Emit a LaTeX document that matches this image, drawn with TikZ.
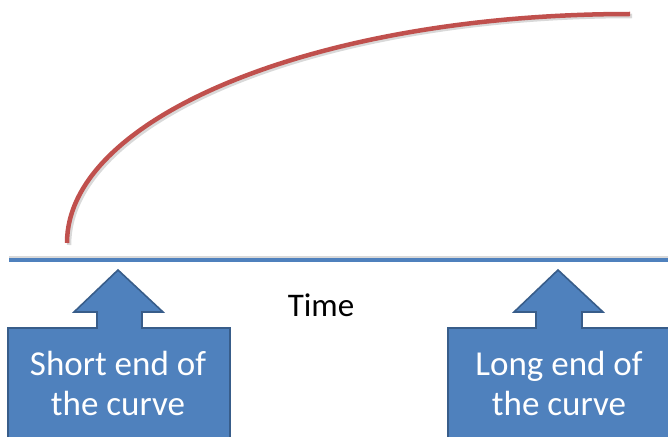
\documentclass[tikz,border=0pt]{standalone}
\usepackage{fontspec}
\setmainfont{Carlito}
\definecolor{boxblue}{HTML}{4F81BD}
\definecolor{boxedge}{HTML}{385D8A}
\definecolor{curvered}{HTML}{C0504D}
\begin{document}
\begin{tikzpicture}[x=1pt,y=-1pt,
  callout/.style={fill=boxblue,draw=boxedge,line width=1.6pt,line join=miter},
  lbl/.style={text=white,font=\fontsize{35}{40}\selectfont,align=center,inner sep=0pt},
  axis/.style={draw=boxblue,line width=4pt},
  shadowline/.style={draw=black!15,line width=4pt},
  curve/.style={draw=curvered,line width=4.5pt,line cap=butt}
]
\useasboundingbox (0,0) rectangle (668,436);
% curve
\coordinate (cs) at (67,243);
\draw[shadowline,line width=4.5pt] ([shift={(2,2)}]cs) arc[start angle=180,end angle=270,x radius=563,y radius=229];
\draw[curve] (cs) arc[start angle=180,end angle=270,x radius=563,y radius=229];
% axis
\coordinate (axl) at (9,260);
\coordinate (axr) at (668,260);
\draw[shadowline] ([yshift=2]axl) -- ([yshift=2]axr);
\draw[axis] (axl) -- (axr);
\node[font=\fontsize{33}{40}\selectfont,anchor=base,inner sep=0pt] (time) at (321,316) {Time};
% left callout
\draw[callout] (118,270) -- (163,312) -- (142,312) -- (142,328) -- (230,328) -- (230,440) -- (8,440) -- (8,328) -- (97,328) -- (97,312) -- (74,312) -- cycle;
\node[lbl,anchor=base] (l1) at (118,375) {Short end of};
\node[lbl,anchor=base] (l2) at (118,415) {the curve};
% right callout
\draw[callout] (558,270) -- (603,312) -- (582,312) -- (582,328) -- (670,328) -- (670,440) -- (448,440) -- (448,328) -- (536,328) -- (536,312) -- (514,312) -- cycle;
\node[lbl,anchor=base] (r1) at (559,375) {Long end of};
\node[lbl,anchor=base] (r2) at (559,415) {the curve};
\end{tikzpicture}
\end{document}
